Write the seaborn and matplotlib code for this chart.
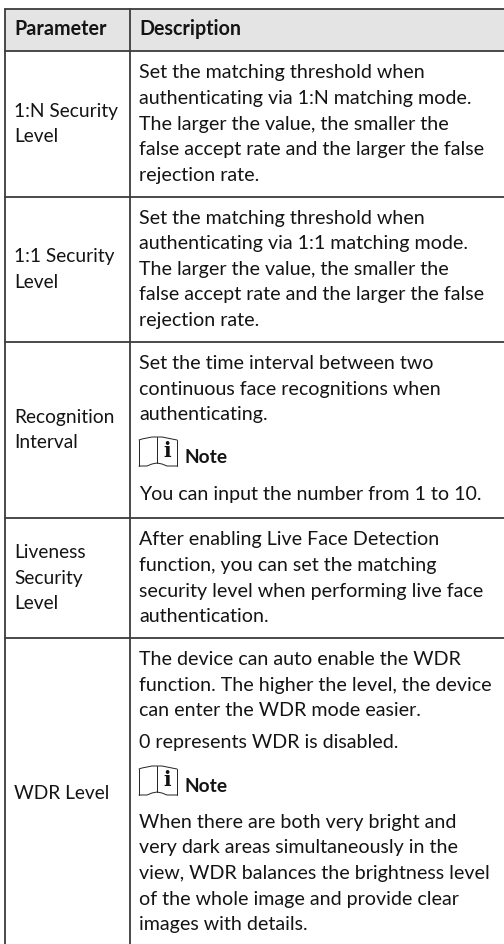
import matplotlib
matplotlib.use('Agg')
import matplotlib.pyplot as plt
import seaborn as sns
import pandas as pd

W, H = 504, 944

headers = ['Parameter', 'Description']
params = [['1:N Security', 'Level'],
          ['1:1 Security', 'Level'],
          ['Recognition', 'Interval'],
          ['Liveness', 'Security', 'Level'],
          ['WDR Level']]
param_y = [[117, 142], [262, 288], [423, 448], [558, 584, 609], [799]]

desc_lines = [
    ('Set the matching threshold when', 78),
    ('authenticating via 1:N matching mode.', 104),
    ('The larger the value, the smaller the', 130),
    ('false accept rate and the larger the false', 155),
    ('rejection rate.', 181),
    ('Set the matching threshold when', 224),
    ('authenticating via 1:1 matching mode.', 249),
    ('The larger the value, the smaller the', 275),
    ('false accept rate and the larger the false', 300),
    ('rejection rate.', 326),
    ('Set the time interval between two', 369),
    ('continuous face recognitions when', 395),
    ('authenticating.', 420),
    ('You can input the number from 1 to 10.', 500),
    ('After enabling Live Face Detection', 545),
    ('function, you can set the matching', 571),
    ('security level when performing live face', 597),
    ('authentication.', 622),
    ('The device can auto enable the WDR', 665),
    ('function. The higher the level, the device', 691),
    ('can enter the WDR mode easier.', 716),
    ('0 represents WDR is disabled.', 748),
    ('When there are both very bright and', 828),
    ('very dark areas simultaneously in the', 853),
    ('view, WDR balances the brightness level', 879),
    ('of the whole image and provide clear', 905),
    ('images with details.', 930),
]
note_y = [463, 792]

row_edges = [8.5, 51, 197, 342, 518, 638, 944]
col_edges = [5, 130, 504]

# book outline offsets, relative to the Note baseline
icon_x = [139, 142, 147, 152, 157, 162, 167, 172, 177]
icon_top = [-23, -24, -25, -26, -26, -26, -25, -24, -23]
icon_bot = [3, 3, 3, 1, 0, 1, 3, 3, 3]

sns.set_theme(style='white')
plt.rcParams['font.family'] = ['Lato', 'DejaVu Sans']

fig = plt.figure(figsize=(W / 100, H / 100), dpi=100)
ax = fig.add_axes([0, 0, 1, 1])
ax.set_xlim(0, W)
ax.set_ylim(H, 0)
ax.axis('off')

# header band
ax.fill_between(col_edges[0::2], row_edges[0], row_edges[1], color='#e4e4e4', lw=0)

# rules
rules = []
for i, y in enumerate(row_edges[:-1]):
    rules.append(pd.DataFrame({'x': [col_edges[0], col_edges[-1]], 'y': [y, y], 'r': f'h{i}'}))
for i, x in enumerate(col_edges[:-1]):
    rules.append(pd.DataFrame({'x': [x, x], 'y': [row_edges[0], row_edges[-1]], 'r': f'v{i}'}))
rules = pd.concat(rules)
sns.lineplot(data=rules, x='x', y='y', units='r', estimator=None, sort=False,
             color='#3c3c3c', lw=1.3, ax=ax, legend=False)
ax.set_xlim(0, W)
ax.set_ylim(H, 0)
ax.axis('off')

fs_desc = 14.15
fs_par = 13.8
tc = '#141414'
ax.text(14, 35, headers[0], fontsize=14.2, fontweight='bold', va='baseline', color=tc)
ax.text(139, 35, headers[1], fontsize=14.1, fontweight='bold', va='baseline', color=tc)
for lines, ys in zip(params, param_y):
    for t, y in zip(lines, ys):
        ax.text(14, y, t, fontsize=fs_par, va='baseline', color=tc)
for t, y in desc_lines:
    ax.text(139, y, t, fontsize=fs_desc, va='baseline', color=tc)

# note icons
for y in note_y:
    top = [y + d for d in icon_top]
    bot = [y + d for d in icon_bot]
    ax.plot(icon_x, top, color='#222222', lw=0.7)
    ax.plot(icon_x, bot, color='#222222', lw=0.7)
    for x, a, b in [(icon_x[0], top[0], bot[0]), (icon_x[4], top[4], bot[4]), (icon_x[-1], top[-1], bot[-1])]:
        ax.plot([x, x], [a, b], color='#222222', lw=0.7)
    ax.text(167.5, y - 6, 'i', fontsize=14.5, fontweight='bold', family='DejaVu Serif', ha='center', va='baseline', color='#111111')
    ax.text(184, y, 'Note', fontsize=13.8, fontweight='bold', va='baseline', color=tc)

fig.savefig('out.png', dpi=100)
